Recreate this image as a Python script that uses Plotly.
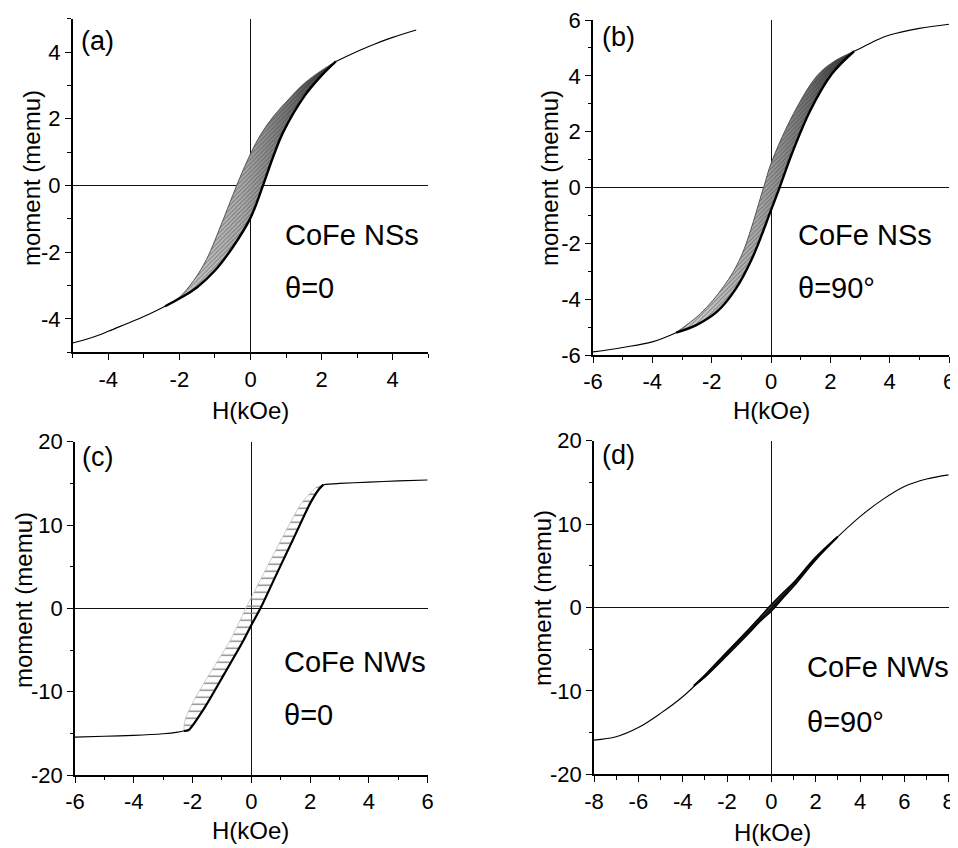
import plotly.graph_objects as go

# The page body has an 8 px margin, so the figure is drawn 8 px in from the top-left.
OFF = 8
W, H = 958 - OFF, 848 - OFF
FONT = "Liberation Sans, Arial, sans-serif"

# ---------------- Panel (a): CoFe NSs, theta = 0 ----------------
a_outL_H = [-5.0, -4.5, -4.0, -3.5, -3.0, -2.4]
a_outL_M = [-4.72, -4.57, -4.37, -4.15, -3.93, -3.62]
a_outR_H = [2.4, 3.0, 3.5, 4.0, 4.66]
a_outR_M = [3.72, 4.02, 4.24, 4.44, 4.66]
a_up_H = [-2.40, -2.00, -1.60, -1.24, -0.77, -0.39, 0.00, 0.30, 0.65, 1.00, 1.50, 2.00, 2.40]
a_up_M = [-3.62, -3.35, -2.85, -2.22, -1.03, 0.00, 0.95, 1.55, 2.08, 2.50, 3.05, 3.45, 3.72]
a_lo_H = [-2.40, -1.90, -1.50, -1.00, -0.50, 0.00, 0.35, 0.64, 0.92, 1.53, 2.00, 2.40]
a_lo_M = [-3.62, -3.33, -3.05, -2.55, -1.85, -0.97, 0.00, 0.87, 1.60, 2.70, 3.30, 3.72]

# ---------------- Panel (b): CoFe NSs, theta = 90 ----------------
b_outL_H = [-6.0, -5.0, -4.0, -3.2]
b_outL_M = [-5.89, -5.73, -5.53, -5.20]
b_outR_H = [2.8, 3.0, 3.5, 4.0, 5.0, 6.0]
b_outR_M = [4.88, 4.98, 5.25, 5.46, 5.70, 5.85]
b_up_H = [-3.2, -2.38, -1.60, -1.00, -0.25, 0.00, 0.76, 1.55, 2.10, 2.80]
b_up_M = [-5.20, -4.52, -3.55, -2.45, 0.00, 0.86, 2.65, 4.00, 4.50, 4.88]
b_lo_H = [-3.2, -2.50, -1.82, -1.20, -0.60, 0.00, 0.29, 0.70, 1.32, 2.06, 2.80]
b_lo_M = [-5.20, -4.92, -4.45, -3.65, -2.45, -0.81, 0.00, 1.20, 2.75, 4.08, 4.88]

# ---------------- Panel (c): CoFe NWs, theta = 0 ----------------
c_outL_H = [-6.0, -5.0, -4.0, -3.0, -2.5, -2.3]
c_outL_M = [-15.45, -15.35, -15.25, -15.05, -14.85, -14.72]
c_outR_H = [2.45, 3.0, 4.0, 5.0, 6.0]
c_outR_M = [14.85, 15.0, 15.15, 15.3, 15.4]
c_up_H = [-2.30, -2.25, -1.95, -1.41, -0.71, -0.19, 0.42, 1.01, 1.70, 2.20, 2.45]
c_up_M = [-14.72, -13.3, -11.0, -7.8, -3.8, 0.0, 4.2, 8.2, 12.6, 14.5, 14.85]
c_lo_H = [-2.30, -2.13, -1.57, -0.91, -0.26, 0.00, 0.31, 0.87, 1.41, 2.00, 2.30, 2.45]
c_lo_M = [-14.72, -14.6, -11.8, -7.8, -3.8, -2.0, 0.0, 4.2, 8.2, 12.6, 14.3, 14.85]

# ---------------- Panel (d): CoFe NWs, theta = 90 ----------------
d_H = [-8, -7, -6, -5, -4, -3, -2, -1, 0, 1, 2, 3, 4, 5, 6, 7, 8]
d_M = [-15.9, -15.5, -14.4, -12.7, -10.7, -8.2, -5.5, -2.8, -0.1, 2.8, 5.9, 8.5,
       10.9, 12.9, 14.5, 15.4, 15.9]
d_up_H = [-3.5, -3.0, -2.0, -1.0, -0.5, 0.0, 0.5, 1.0, 2.0, 3.0]
d_up_M = [-9.35, -8.1, -5.3, -2.55, -1.1, 0.35, 1.7, 3.0, 6.05, 8.55]
d_lo_H = [-3.5, -3.0, -2.0, -1.0, -0.5, 0.0, 0.5, 1.0, 2.0, 3.0]
d_lo_M = [-9.45, -8.35, -5.75, -3.05, -1.65, -0.45, 1.05, 2.5, 5.7, 8.45]

# ticks
a_xt = [-4, -2, 0, 2, 4]; a_yt = [-4, -2, 0, 2, 4]
b_xt = [-6, -4, -2, 0, 2, 4, 6]; b_yt = [-6, -4, -2, 0, 2, 4, 6]
c_xt = [-6, -4, -2, 0, 2, 4, 6]; c_yt = [-20, -10, 0, 10, 20]
d_xt = [-8, -6, -4, -2, 0, 2, 4, 6, 8]; d_yt = [-20, -10, 0, 10, 20]

X_TITLE = "H(kOe)"
Y_TITLE = "moment (memu)"

panels = [
    dict(lab="(a)", t1="CoFe NSs", t2="θ=0", xr=[-5, 5], yr=[-5, 5], xt=a_xt, yt=a_yt, xm=1, ym=1,
         px=(72.7, 428.3), py=(18.7, 352.3),
         outs=[(a_outL_H, a_outL_M), (a_outR_H, a_outR_M)],
         up=(a_up_H, a_up_M), lo=(a_lo_H, a_lo_M), style="dense",
         labpos=(79, 41), tpos=(283, 235, 288), xtit=(251, 410), ytit=(32, 178)),
    dict(lab="(b)", t1="CoFe NSs", t2="θ=90°", xr=[-6, 6], yr=[-6, 6], xt=b_xt, yt=b_yt, xm=1, ym=1,
         px=(593, 949), py=(20, 355),
         outs=[(b_outL_H, b_outL_M), (b_outR_H, b_outR_M)],
         up=(b_up_H, b_up_M), lo=(b_lo_H, b_lo_M), style="dense",
         labpos=(600, 37), tpos=(796, 235, 288), xtit=(771, 410), ytit=(550, 178)),
    dict(lab="(c)", t1="CoFe NWs", t2="θ=0", xr=[-6, 6], yr=[-20, 20], xt=c_xt, yt=c_yt, xm=1, ym=5,
         px=(75, 427.7), py=(441.7, 775),
         outs=[(c_outL_H, c_outL_M), (c_outR_H, c_outR_M)],
         up=(c_up_H, c_up_M), lo=(c_lo_H, c_lo_M), style="hatch",
         labpos=(80, 457), tpos=(282, 662, 715), xtit=(251, 830), ytit=(23, 600)),
    dict(lab="(d)", t1="CoFe NWs", t2="θ=90°", xr=[-8, 8], yr=[-20, 20], xt=d_xt, yt=d_yt, xm=1, ym=5,
         px=(594, 948.7), py=(440.7, 774.3),
         outs=[(d_H, d_M)],
         up=(d_up_H, d_up_M), lo=(d_lo_H, d_lo_M), style="thin",
         labpos=(600, 455), tpos=(805, 667, 722), xtit=(772, 832), ytit=(542, 598)),
]


def fx(px):
    return (px - OFF) / W


def fy(py):
    return 1 - (py - OFF) / H


fig = go.Figure()
layout = dict(width=W, height=H, margin=dict(l=0, r=0, t=0, b=0, autoexpand=False),
              paper_bgcolor="white", plot_bgcolor="white", showlegend=False,
              annotations=[])


def ln(color, width, smooth=1.0):
    return dict(color=color, width=width, shape="spline", smoothing=smooth)


def note(text, px, py, size, xanchor="left", angle=0):
    return dict(text=text, x=fx(px), y=fy(py), xref="paper", yref="paper",
                xanchor=xanchor, yanchor="middle", showarrow=False, textangle=angle,
                font=dict(family=FONT, size=size, color="black"))


for i, p in enumerate(panels):
    n = "" if i == 0 else str(i + 1)
    xa, ya = "x" + n, "y" + n
    uh, um = p["up"]
    lh, lm = p["lo"]
    poly_x = list(uh) + list(lh)[::-1]
    poly_y = list(um) + list(lm)[::-1]
    sm = 0.6 if p["style"] == "hatch" else 1.0
    if p["style"] == "dense":
        # shading of the bundle of reversal curves: light at the left, dense at the right
        fig.add_trace(go.Scatter(x=poly_x, y=poly_y, xaxis=xa, yaxis=ya, mode="lines",
                                 fill="toself", line=dict(width=0, shape="spline"),
                                 fillgradient=dict(type="horizontal", start=min(poly_x), stop=max(poly_x),
                                                   colorscale=[[0, "#d4d4d4"], [0.45, "#ababab"],
                                                               [0.75, "#6e6e6e"], [1, "#2a2a2a"]]),
                                 hoverinfo="skip"))
        fig.add_trace(go.Scatter(x=poly_x, y=poly_y, xaxis=xa, yaxis=ya, mode="lines",
                                 fill="toself", line=dict(width=0, shape="spline"),
                                 fillpattern=dict(shape="/", size=3, solidity=0.3,
                                                  fgcolor="rgba(40,40,40,0.45)",
                                                  bgcolor="rgba(0,0,0,0)",
                                                  fillmode="replace"),
                                 hoverinfo="skip"))
        fig.add_trace(go.Scatter(x=uh, y=um, xaxis=xa, yaxis=ya, mode="lines",
                                 line=ln("#555", 1.0)))
        fig.add_trace(go.Scatter(x=lh, y=lm, xaxis=xa, yaxis=ya, mode="lines",
                                 line=ln("black", 2.4)))
    elif p["style"] == "hatch":
        fig.add_trace(go.Scatter(x=poly_x, y=poly_y, xaxis=xa, yaxis=ya, mode="lines",
                                 fill="toself", line=dict(width=0, shape="spline", smoothing=sm),
                                 fillpattern=dict(shape="-", size=7, solidity=0.18,
                                                  fgcolor="#7a7a7a", bgcolor="rgba(0,0,0,0)",
                                                  fillmode="replace"),
                                 hoverinfo="skip"))
        fig.add_trace(go.Scatter(x=uh, y=um, xaxis=xa, yaxis=ya, mode="lines",
                                 line=ln("#c0c0c0", 0.8, sm)))
        fig.add_trace(go.Scatter(x=lh, y=lm, xaxis=xa, yaxis=ya, mode="lines",
                                 line=ln("black", 2.2, sm)))
    else:
        fig.add_trace(go.Scatter(x=poly_x, y=poly_y, xaxis=xa, yaxis=ya, mode="lines",
                                 fill="toself", fillcolor="#333", line=dict(width=0, shape="spline"),
                                 hoverinfo="skip"))
        fig.add_trace(go.Scatter(x=uh, y=um, xaxis=xa, yaxis=ya, mode="lines",
                                 line=ln("black", 1.4)))
        fig.add_trace(go.Scatter(x=lh, y=lm, xaxis=xa, yaxis=ya, mode="lines",
                                 line=ln("black", 1.4)))
    for (oh, om) in p["outs"]:
        fig.add_trace(go.Scatter(x=oh, y=om, xaxis=xa, yaxis=ya, mode="lines",
                                 line=ln("black", 1.1, sm)))

    common = dict(showline=True, linecolor="black", linewidth=1.6, mirror=False,
                  ticks="outside", ticklen=6, tickwidth=1.4, tickcolor="black",
                  showgrid=False, zeroline=True, zerolinecolor="#111", zerolinewidth=1.3,
                  automargin=False, ticklabeloverflow="allow",
                  tickfont=dict(family=FONT, size=22, color="black"), tickmode="array")
    x0, x1 = p["px"]
    y0, y1 = p["py"]
    layout["xaxis" + n] = dict(common, domain=[fx(x0), fx(x1)], range=p["xr"], anchor=ya,
                               tickvals=p["xt"], ticktext=[str(v) for v in p["xt"]],
                               minor=dict(tickmode="linear", tick0=0, dtick=p["xm"], ticks="outside",
                                          ticklen=3.5, tickwidth=1, tickcolor="black", showgrid=False))
    layout["yaxis" + n] = dict(common, domain=[fy(y1), fy(y0)], range=p["yr"], anchor=xa,
                               tickvals=p["yt"], ticktext=[str(v) for v in p["yt"]],
                               minor=dict(tickmode="linear", tick0=0, dtick=p["ym"], ticks="outside",
                                          ticklen=3.5, tickwidth=1, tickcolor="black", showgrid=False))
    ann = layout["annotations"]
    ann.append(note(p["lab"], *p["labpos"], 27))
    tx, ty1, ty2 = p["tpos"]
    ann.append(note(p["t1"], tx, ty1, 29))
    ann.append(note(p["t2"], tx, ty2, 29))
    ann.append(note(X_TITLE, *p["xtit"], 24, xanchor="center"))
    ann.append(note(Y_TITLE, *p["ytit"], 24, xanchor="center", angle=-90))

fig.update_layout(**layout)
fig.write_html("out.html")
